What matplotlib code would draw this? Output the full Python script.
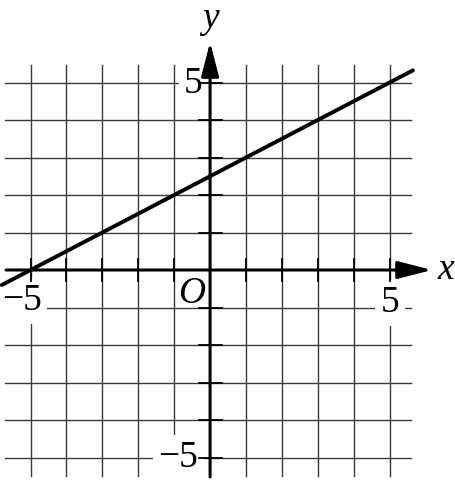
import matplotlib
matplotlib.use("Agg")
import matplotlib.pyplot as plt
import numpy as np

# grid / axis values
grid_ticks = [-5, -4, -3, -2, -1, 1, 2, 3, 4, 5]
tick_labels = {"x": [(-5, "\u22125"), (5, "5")], "y": [(5, "5"), (-5, "\u22125")]}

# the plotted line: through (-5, 0) and (5, 5)
line_x = [-5.8, 5.65]
line_y = [-0.4, 5.325]

plt.rcParams["font.family"] = ["Liberation Serif", "DejaVu Serif"]

fig = plt.figure(figsize=(4.55, 4.8), dpi=100)
ax = fig.add_axes([0, 0, 1, 1])
ax.set_xlim(-5.85, 6.82)
ax.set_ylim(-5.6, 7.2)
ax.axis("off")

grid_kw = dict(color="#3a3a3a", lw=1.0, zorder=1)
for g in grid_ticks:
    ax.plot([g, g], [-5.5, 5.47], **grid_kw)
    ax.plot([-5.7, 5.6], [g, g], **grid_kw)

# small ticks along the axes
for g in grid_ticks:
    ax.plot([-0.3, 0.32], [g, g], color="black", lw=1.3, zorder=3)
    ax.plot([g, g], [-0.3, 0.3], color="black", lw=1.3, zorder=3)

# axes with arrow heads
arrow = dict(arrowstyle="-|>,head_length=1.05,head_width=0.27", lw=2.2,
             color="black", shrinkA=0, shrinkB=0, mutation_scale=20)
ax.annotate("", xy=(6.18, 0), xytext=(-5.68, 0), arrowprops=arrow, zorder=3)
ax.annotate("", xy=(0, 6.08), xytext=(0, -5.52), arrowprops=arrow, zorder=3)

ax.plot(line_x, line_y, color="black", lw=2.8, solid_capstyle="round", zorder=4)

fs = 27
box = dict(facecolor="white", edgecolor="none", pad=4)
ax.text(-5.8, -1.07, tick_labels["x"][0][1], fontsize=fs, ha="left",
        va="baseline", bbox=box, zorder=2)
ax.text(5.01, -1.12, tick_labels["x"][1][1], fontsize=fs, ha="center",
        va="baseline", bbox=box, zorder=2)
ax.text(-0.2, 4.72, tick_labels["y"][0][1], fontsize=fs, ha="right",
        va="baseline", bbox=box, zorder=2)
ax.text(-0.33, -5.25, tick_labels["y"][1][1], fontsize=fs, ha="right",
        va="baseline", bbox=box, zorder=2)

ax.text(-0.52, -0.88, "O", fontsize=fs, style="italic", ha="center",
        va="baseline", zorder=2)
ax.text(6.32, -0.24, "x", fontsize=fs, style="italic", ha="left",
        va="baseline", zorder=2)
ax.text(0, 6.45, "y", fontsize=fs, style="italic", ha="center",
        va="baseline", zorder=2)

fig.savefig("out.png", dpi=100)
